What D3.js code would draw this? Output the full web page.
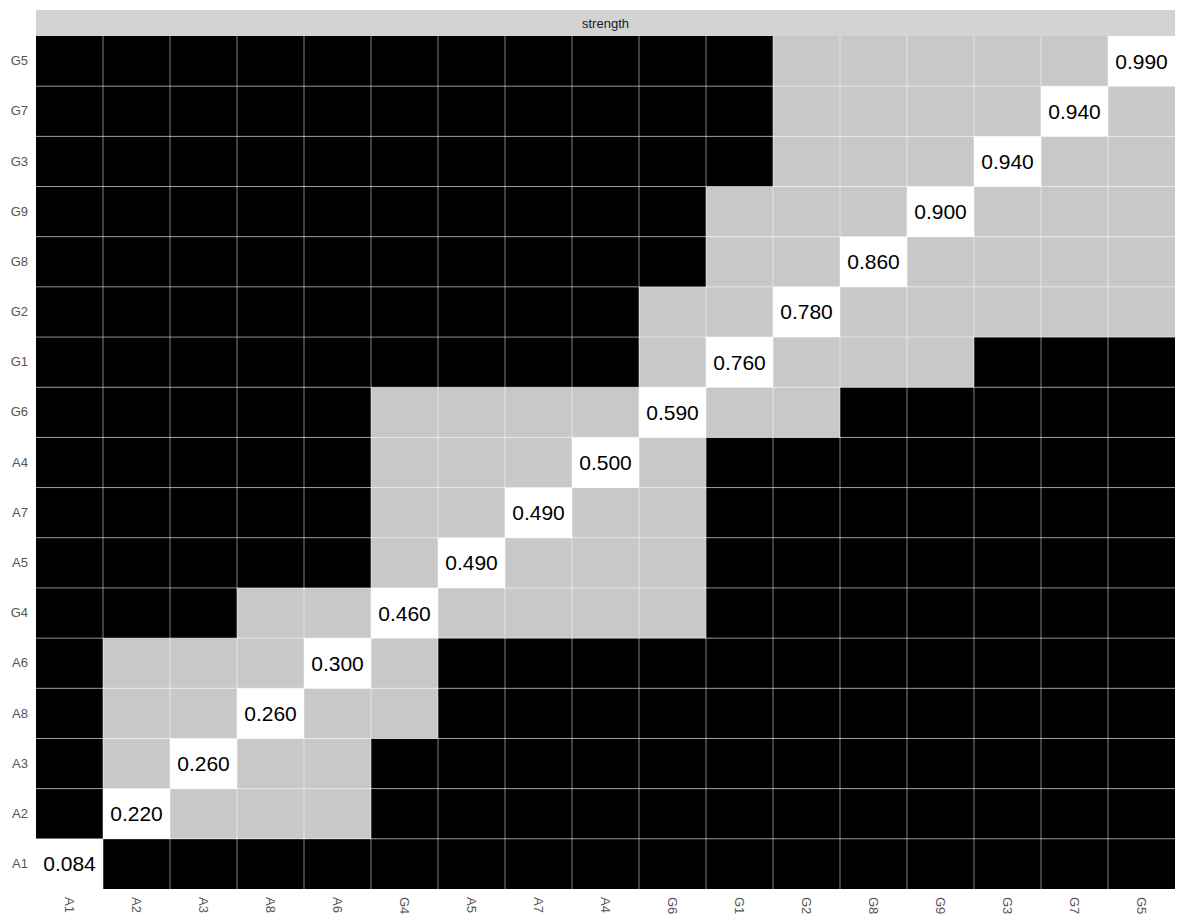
<!DOCTYPE html>
<html>
<head>
<meta charset="utf-8">
<script src="https://cdn.jsdelivr.net/npm/d3@7"></script>
<style>
  body { margin: 0; background: #fff; }
  text { font-family: "Liberation Sans", Arial, sans-serif; }
</style>
</head>
<body>
<script>
// group order, both axes (bottom to top on y)
const groups = ["A1","A2","A3","A8","A6","G4","A5","A7","A4","G6","G1","G2","G8","G9","G3","G7","G5"];
// mean strength per group (diagonal)
const strength = [0.084, 0.220, 0.260, 0.260, 0.300, 0.460, 0.490, 0.490, 0.500, 0.590, 0.760, 0.780, 0.860, 0.900, 0.940, 0.940, 0.990];
// pairs not significantly different (grey cells), by name
const samePairs = [
    ["A2","A3"],["A2","A8"],["A2","A6"],
    ["A3","A8"],["A3","A6"],
    ["A8","A6"],["A8","G4"],
    ["A6","G4"],
    ["G4","A5"],["G4","A7"],["G4","A4"],["G4","G6"],
    ["A5","A7"],["A5","A4"],["A5","G6"],
    ["A7","A4"],["A7","G6"],
    ["A4","G6"],
    ["G6","G1"],["G6","G2"],
    ["G1","G2"],["G1","G8"],["G1","G9"],
    ["G2","G8"],["G2","G9"],["G2","G3"],["G2","G7"],["G2","G5"],
    ["G8","G9"],["G8","G3"],["G8","G7"],["G8","G5"],
    ["G9","G3"],["G9","G7"],["G9","G5"],
    ["G3","G7"],["G3","G5"],
    ["G7","G5"]
];

const width = 1178, height = 918;
const pLeft = 36, pRight = 1175, pTop = 36, pBottom = 889;

const svg = d3.select("body").append("svg")
    .attr("width", width)
    .attr("height", height);

const x = d3.scaleBand().domain(groups).range([pLeft, pRight]);
const y = d3.scaleBand().domain(groups).range([pBottom, pTop]);

const same = new Set();
samePairs.forEach(function(p) {
    same.add(p[0] + "|" + p[1]);
    same.add(p[1] + "|" + p[0]);
});

const cells = [];
groups.forEach(function(r, i) {
    groups.forEach(function(c, j) {
        let kind = "diff";
        if (i == j) kind = "diag";
        else if (same.has(r + "|" + c)) kind = "same";
        cells.push({row: r, col: c, kind: kind, value: i == j ? strength[i] : null});
    });
});

const fill = {diff: "#000000", same: "#c8c8c8", diag: "#ffffff"};

// strip
svg.append("rect")
    .attr("x", pLeft).attr("y", 10)
    .attr("width", pRight - pLeft).attr("height", pTop - 10)
    .attr("fill", "#d3d3d3");
svg.append("text")
    .attr("x", (pLeft + pRight) / 2).attr("y", 23)
    .attr("text-anchor", "middle").attr("dominant-baseline", "central")
    .attr("font-size", 13).attr("fill", "#1a1a1a")
    .text("strength");

svg.append("g").selectAll("rect")
    .data(cells)
    .join("rect")
    .attr("x", d => x(d.col))
    .attr("y", d => y(d.row))
    .attr("width", x.bandwidth())
    .attr("height", y.bandwidth())
    .attr("fill", d => fill[d.kind]);

// grid lines
const grid = svg.append("g")
    .attr("stroke", "#fff").attr("stroke-opacity", 0.5).attr("stroke-width", 1);
groups.slice(1).forEach(function(g) {
    grid.append("line")
        .attr("x1", x(g)).attr("x2", x(g))
        .attr("y1", pTop).attr("y2", pBottom);
    grid.append("line")
        .attr("x1", pLeft).attr("x2", pRight)
        .attr("y1", y(g) + y.bandwidth()).attr("y2", y(g) + y.bandwidth());
});

svg.append("g").selectAll("text")
    .data(cells.filter(d => d.kind == "diag"))
    .join("text")
    .attr("x", d => x(d.col) + x.bandwidth() / 2)
    .attr("y", d => y(d.row) + y.bandwidth() / 2)
    .attr("text-anchor", "middle").attr("dominant-baseline", "central")
    .attr("font-size", 21).attr("fill", "#000")
    .text(d => d.value.toFixed(3));

// axes
const yAxis = svg.append("g")
    .attr("transform", "translate(" + pLeft + ",0)")
    .call(d3.axisLeft(y).tickSize(0).tickPadding(8));
yAxis.select(".domain").remove();
yAxis.selectAll("text").attr("font-size", 13).attr("fill", "#555")
    .attr("font-family", "Liberation Sans, Arial, sans-serif");

const xAxis = svg.append("g")
    .attr("transform", "translate(0," + pBottom + ")")
    .call(d3.axisBottom(x).tickSize(0).tickPadding(0));
xAxis.select(".domain").remove();
xAxis.selectAll("text")
    .attr("font-size", 13).attr("fill", "#555")
    .attr("font-family", "Liberation Sans, Arial, sans-serif")
    .attr("transform", "rotate(90)")
    .attr("x", 8).attr("y", 0).attr("dy", "0.35em")
    .attr("text-anchor", "start");
</script>
</body>
</html>
